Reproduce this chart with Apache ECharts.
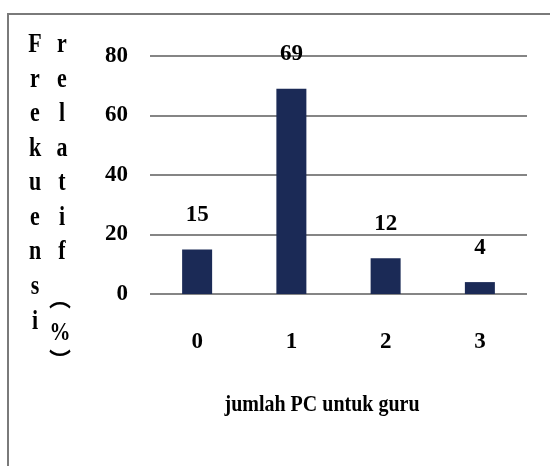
<!DOCTYPE html>
<html>
<head>
<meta charset="utf-8">
<title>jumlah PC untuk guru</title>
<script src="https://cdn.jsdelivr.net/npm/echarts@6/dist/echarts.min.js"></script>
<style>
  html, body { margin: 0; padding: 0; background: #ffffff; }
  #chart { width: 550px; height: 466px; }
</style>
</head>
<body>
<div id="chart"></div>
<script>
// Number of PCs available for teachers, relative frequency (%)
const categories = ['0', '1', '2', '3'];
const values = [15, 69, 12, 4];
const yTicks = { min: 0, max: 80, interval: 20 };

const xTitle = 'jumlah PC untuk guru';
const yTitleLeft = 'Frekuensi';
const yTitleRight = 'relatif';
const yTitleUnit = '%';

const serif = '"Liberation Serif", "Times New Roman", serif';
const cjk = '"Noto Sans CJK SC", "Noto Sans CJK JP", sans-serif';
const textStyle = { fontFamily: serif, fontWeight: 'bold', color: '#000000' };

const chart = echarts.init(document.getElementById('chart'), null, { renderer: 'canvas' });

// stacked (one letter per line) title text
const stack = s => s.split('').join('\n');

// text blocks drawn slightly taller than wide
const tall = 1.2;

const option = {
  backgroundColor: '#ffffff',
  animation: false,
  grid: { left: 150, right: 23, top: 56, bottom: 172, containLabel: false },
  xAxis: {
    type: 'category',
    data: categories,
    axisLine: { show: false },
    axisTick: { show: false },
    axisLabel: Object.assign({ fontSize: 23, margin: 37 }, textStyle)
  },
  yAxis: {
    type: 'value',
    min: yTicks.min,
    max: yTicks.max,
    interval: yTicks.interval,
    axisLine: { show: false },
    axisTick: { show: false },
    splitLine: { lineStyle: { color: '#858585', width: 2 } },
    axisLabel: Object.assign({ fontSize: 23, margin: 22 }, textStyle)
  },
  series: [{
    type: 'bar',
    data: values,
    barWidth: 30,
    itemStyle: { color: '#1b2a56' },
    label: Object.assign({
      show: true,
      position: 'top',
      distance: 23,
      fontSize: 23
    }, textStyle)
  }],
  graphic: [
    // outer frame
    {
      type: 'rect',
      shape: { x: 8, y: 14, width: 620, height: 520 },
      style: { fill: 'none', stroke: '#7a7a7a', lineWidth: 2 },
      silent: true
    },
    // x axis title
    {
      type: 'text',
      x: 322, y: 405,
      scaleY: tall,
      style: {
        text: xTitle,
        font: 'bold 20px ' + serif,
        fill: '#000000',
        textAlign: 'center',
        textVerticalAlign: 'middle'
      }
    },
    // y axis title, first column
    {
      type: 'text',
      x: 35, y: 28,
      scaleY: tall,
      style: {
        text: stack(yTitleLeft),
        font: 'bold 22px ' + serif,
        lineHeight: 28.8,
        fill: '#000000',
        textAlign: 'center',
        textVerticalAlign: 'top'
      }
    },
    // y axis title, second column
    {
      type: 'text',
      x: 62, y: 28,
      scaleY: tall,
      style: {
        text: stack(yTitleRight),
        font: 'bold 22px ' + serif,
        lineHeight: 28.8,
        fill: '#000000',
        textAlign: 'center',
        textVerticalAlign: 'top'
      }
    },
    // vertical-form brackets around the unit
    {
      type: 'text',
      x: 60, y: 298,
      style: {
        text: '\uFE35',
        font: 'bold 22px ' + cjk,
        fill: '#000000',
        textAlign: 'center',
        textVerticalAlign: 'middle'
      }
    },
    {
      type: 'text',
      x: 60, y: 333,
      scaleY: tall,
      style: {
        text: yTitleUnit,
        font: 'bold 21px ' + serif,
        fill: '#000000',
        textAlign: 'center',
        textVerticalAlign: 'middle'
      }
    },
    {
      type: 'text',
      x: 60, y: 360,
      style: {
        text: '\uFE36',
        font: 'bold 22px ' + cjk,
        fill: '#000000',
        textAlign: 'center',
        textVerticalAlign: 'middle'
      }
    }
  ]
};

chart.setOption(option);
</script>
</body>
</html>
